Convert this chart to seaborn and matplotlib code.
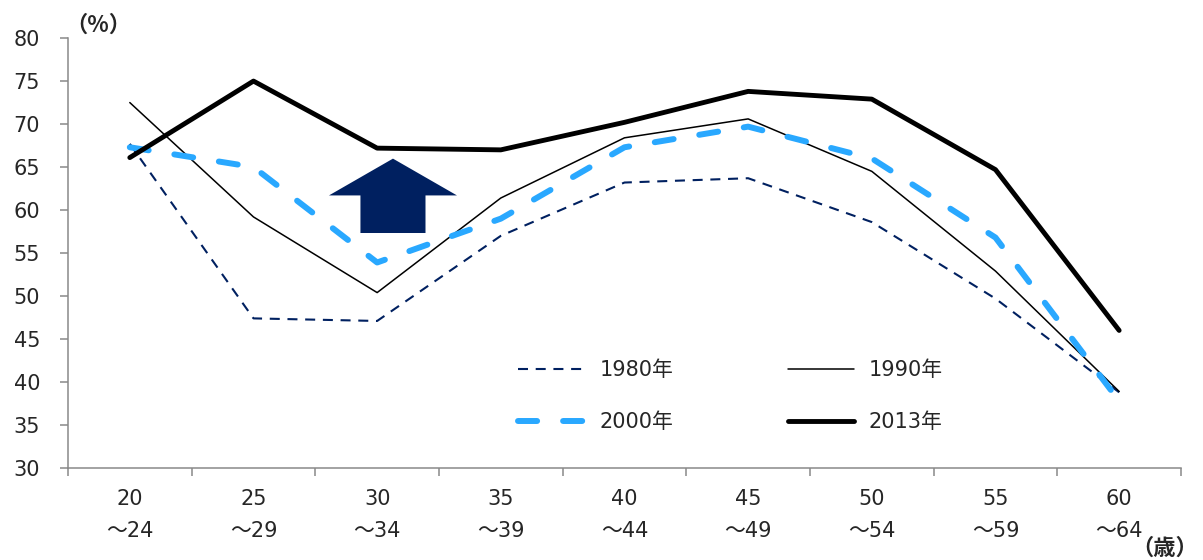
import matplotlib
matplotlib.use("Agg")
import matplotlib.pyplot as plt
import seaborn as sns

# 年齢階級別の就業率（%）
age_groups = ["20\n〜24", "25\n〜29", "30\n〜34", "35\n〜39", "40\n〜44",
              "45\n〜49", "50\n〜54", "55\n〜59", "60\n〜64"]
rate_1980 = [67.7, 47.4, 47.1, 57.0, 63.2, 63.7, 58.6, 49.7, 38.8]
rate_1990 = [72.5, 59.2, 50.4, 61.4, 68.4, 70.6, 64.5, 52.9, 38.9]
rate_2000 = [67.3, 65.0, 53.9, 59.0, 67.3, 69.7, 66.0, 56.8, 37.8]
rate_2013 = [66.1, 75.0, 67.2, 67.0, 70.2, 73.8, 72.9, 64.7, 46.0]

NAVY = "#002060"
BLUE = "#29A8FF"
GRAY = "#898989"

sns.set_style("ticks")
plt.rcParams["font.family"] = ["DejaVu Sans", "Noto Sans CJK JP"]
plt.rcParams["axes.unicode_minus"] = False

fig, ax = plt.subplots(figsize=(12.03, 5.6), dpi=100)
fig.subplots_adjust(left=0.0565, right=0.9817, bottom=0.1643, top=0.932)

sns.lineplot(x=age_groups, y=rate_1980, ax=ax, sort=False, color=NAVY, lw=1.5,
             linestyle=(0, (4.8, 3.7)), label="1980年")
sns.lineplot(x=age_groups, y=rate_1990, ax=ax, sort=False, color="black", lw=1.1,
             label="1990年")
sns.lineplot(x=age_groups, y=rate_2000, ax=ax, sort=False, color=BLUE, lw=4.3,
             linestyle=(0, (3.2, 4.35)), dash_capstyle="round", label="2000年")
sns.lineplot(x=age_groups, y=rate_2013, ax=ax, sort=False, color="black", lw=3.5,
             solid_capstyle="round", label="2013年")

# 上向き矢印
ax.arrow(2.128, 57.33, 0, 8.65, width=0.526, head_width=1.035, head_length=4.28,
         length_includes_head=True, color=NAVY, lw=0, zorder=1)

ax.set_xlim(-0.5, len(age_groups) - 0.5)
ax.set_ylim(30, 80)
ax.set_yticks(range(30, 81, 5))
ax.set_xticks(range(len(age_groups)))
ax.set_xticklabels(age_groups, linespacing=1.75)
ax.set_xticks([i - 0.5 for i in range(len(age_groups) + 1)], minor=True)
ax.tick_params(axis="x", which="major", length=0, pad=15, labelsize=15)
ax.tick_params(axis="x", which="minor", length=5.5, width=1.1, color=GRAY, direction="out")
ax.tick_params(axis="y", length=6, width=1.1, color=GRAY, pad=14, labelsize=15)
ax.set_xlabel("")
ax.set_ylabel("")

sns.despine(ax=ax)
for side in ["left", "bottom"]:
    ax.spines[side].set_color(GRAY)
    ax.spines[side].set_linewidth(1.1)

# 凡例は行ごとに 1980・1990 / 2000・2013
handles, labels = ax.get_legend_handles_labels()
order = [0, 2, 1, 3]
ax.legend([handles[i] for i in order], [labels[i] for i in order],
          ncol=2, frameon=False, fontsize=15, handlelength=3.2, handletextpad=0.7,
          columnspacing=5.5, labelspacing=1.55, borderpad=0, borderaxespad=0,
          loc="upper left", bbox_to_anchor=(0.4306, 0.357), bbox_transform=fig.transFigure)

cjk = ["Noto Sans CJK JP", "DejaVu Sans"]
fig.text(0.054, 0.955, "（%）", fontsize=16, fontweight="bold", family=cjk,
         ha="left", va="center")
fig.text(0.996, 0.021, "（歳）", fontsize=16, fontweight="bold", family=cjk,
         ha="right", va="center")

fig.savefig("out.png", dpi=100)
